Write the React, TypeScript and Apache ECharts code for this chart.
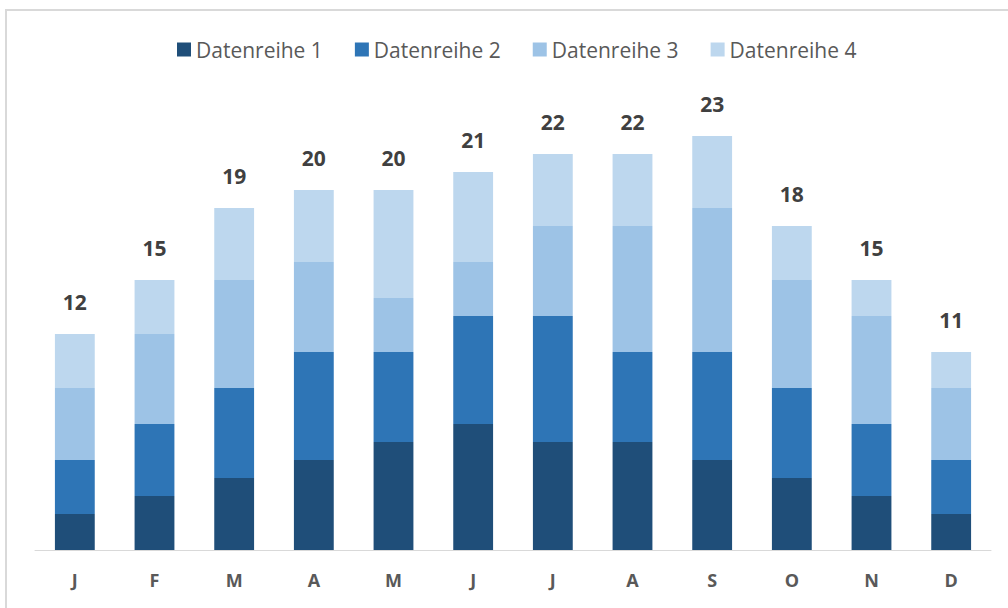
import React, { useEffect, useRef } from "react";
import * as echarts from "echarts";

const categories = ["J", "F", "M", "A", "M", "J", "J", "A", "S", "O", "N", "D"];
const seriesNames = ["Datenreihe 1", "Datenreihe 2", "Datenreihe 3", "Datenreihe 4"];
const series1 = [2, 3, 4, 5, 6, 7, 6, 6, 5, 4, 3, 2];
const series2 = [3, 4, 5, 6, 5, 6, 7, 5, 6, 5, 4, 3];
const series3 = [4, 5, 6, 5, 3, 3, 5, 7, 8, 6, 6, 4];
const series4 = [3, 3, 4, 4, 6, 5, 4, 4, 4, 3, 2, 2];
const colors = ["#1F4E79", "#2E75B6", "#9DC3E6", "#BDD7EE"];

const allSeries = [series1, series2, series3, series4];

export default function App() {
  const ref = useRef<HTMLDivElement>(null);
  useEffect(() => {
    if (!ref.current) return;
    const chart = echarts.init(ref.current, null, { renderer: "svg" });
    const totals = categories.map((_, i) => allSeries.reduce((s, arr) => s + arr[i], 0));
    const font = "'Open Sans', 'Noto Sans', sans-serif";
    chart.setOption({
      animation: false,
      backgroundColor: "#ffffff",
      color: colors,
      textStyle: { fontFamily: font },
      graphic: [
        {
          type: "rect",
          shape: { x: 6, y: 10, width: 1040, height: 640 },
          style: { fill: "none", stroke: "#d9d9d9", lineWidth: 2 },
          silent: true,
        },
      ],
      legend: {
        top: 34,
        left: 172,
        itemWidth: 14,
        itemHeight: 14,
        itemGap: 32,
        icon: "rect",
        textStyle: { fontSize: 21, color: "#595959", fontFamily: font },
        data: seriesNames,
      },
      grid: { left: 35, right: 17, top: 100, bottom: 58, containLabel: false },
      xAxis: {
        type: "category",
        data: categories,
        axisLine: { lineStyle: { color: "#d9d9d9", width: 1 } },
        axisTick: { show: false },
        axisLabel: {
          color: "#595959",
          fontSize: 18,
          fontWeight: "bold",
          margin: 21,
          fontFamily: font,
        },
      },
      yAxis: {
        type: "value",
        min: 0,
        max: 25,
        show: false,
        splitLine: { show: false },
      },
      series: allSeries.map((data, idx) => ({
        name: seriesNames[idx],
        type: "bar",
        stack: "total",
        barWidth: "50%",
        data,
        itemStyle: { color: colors[idx] },
        label:
          idx === 3
            ? {
                show: true,
                position: "top",
                distance: 22,
                formatter: (p: any) => String(totals[p.dataIndex]),
                color: "#404040",
                fontSize: 21,
                fontWeight: "bold",
                fontFamily: font,
              }
            : { show: false },
      })),
    });
    return () => chart.dispose();
  }, []);
  return (
    <div
      ref={ref}
      style={{ position: "fixed", left: 0, top: 0, width: 1008, height: 608 }}
    />
  );
}
